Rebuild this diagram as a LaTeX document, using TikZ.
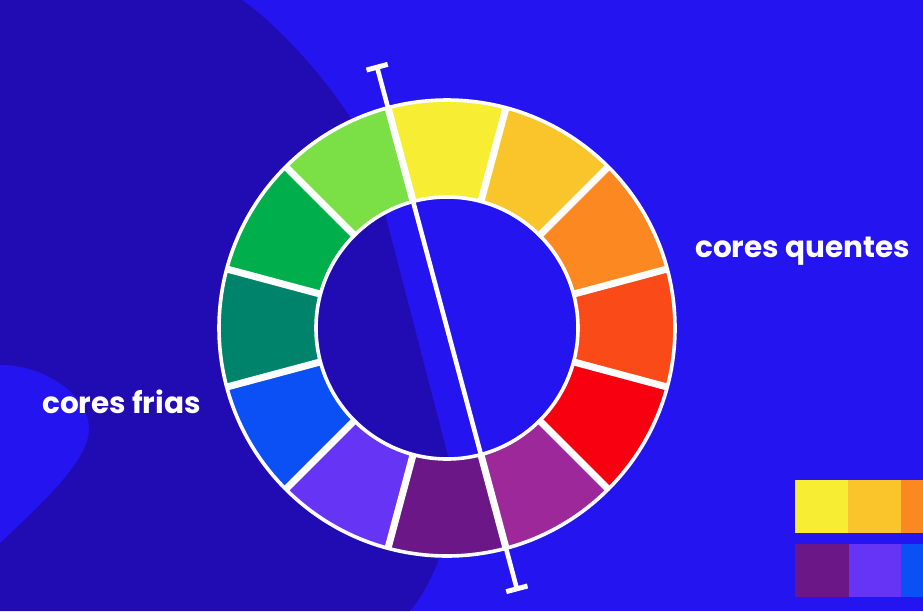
\documentclass[tikz,border=0pt]{standalone}
\usepackage{fontspec}
\setmainfont{Poppins}
\usetikzlibrary{calc}
\definecolor{bgblue}{RGB}{35,20,240}
\definecolor{darkblob}{RGB}{33,12,180}
\definecolor{cYellow}{HTML}{F7EE33}
\definecolor{cLightGreen}{HTML}{7AE046}
\definecolor{cGreen}{HTML}{00AE4B}
\definecolor{cTeal}{HTML}{00836B}
\definecolor{cBlue}{HTML}{0A50F5}
\definecolor{cViolet}{HTML}{6634F4}
\definecolor{cDarkPurple}{HTML}{6B1788}
\definecolor{cMagenta}{HTML}{9C289A}
\definecolor{cRed}{HTML}{F90011}
\definecolor{cRedOrange}{HTML}{F94A18}
\definecolor{cOrange}{HTML}{FB8821}
\definecolor{cYellowOrange}{HTML}{FAC52B}
\tikzset{
  labeltext/.style={text=white, font=\bfseries\fontsize{29.5}{32}\selectfont, inner sep=0pt, anchor=base west},
  whitering/.style={draw=white, line width=3.6pt},
  separator/.style={draw=white, line width=7pt},
  axisline/.style={draw=white, line width=4.6pt},
  capbar/.style={draw=white, line width=5pt},
  swatch/.style={inner sep=0pt, minimum width=53.5pt, minimum height=53pt, anchor=north west}
}
\begin{document}
\begin{tikzpicture}[x=1pt,y=1pt]
\useasboundingbox (0,0) rectangle (923,-611);
\fill[bgblue] (0,0) rectangle (923,-611);
% dark blob
\fill[darkblob] (0,0) -- (242,0) .. controls (292,-35) and (361,-120) .. (371,-160)
  -- (449,-460) .. controls (461,-505) and (440,-575) .. (410,-611) -- (0,-611) -- cycle;
% light bump on the left
\fill[bgblue] (0,-365) .. controls (45,-365) and (88,-395) .. (89,-428)
  .. controls (90,-460) and (40,-505) .. (0,-543) -- cycle;
% colour wheel
\begin{scope}[shift={(447,-328)}]
  \coordinate (wc) at (0,0);
  \def\Rin{131}\def\Rout{228}
  \foreach \col [count=\k from 0] in {cYellow,cLightGreen,cGreen,cTeal,cBlue,cViolet,cDarkPurple,cMagenta,cRed,cRedOrange,cOrange,cYellowOrange}{
    \pgfmathsetmacro{\aone}{75+30*\k}
    \pgfmathsetmacro{\atwo}{105+30*\k}
    \fill[\col] (\aone:\Rin) arc[start angle=\aone, end angle=\atwo, radius=\Rin]
      -- (\atwo:\Rout) arc[start angle=\atwo, end angle=\aone, radius=\Rout] -- cycle;
  }
  \foreach \k in {0,...,11}{
    \pgfmathsetmacro{\aone}{75+30*\k}
    \draw[separator] (\aone:\Rin) -- (\aone:\Rout);
  }
  \draw[whitering] (wc) circle[radius=\Rout];
  \draw[whitering] (wc) circle[radius=\Rin];
  % axis line
  \coordinate (top) at (105:270);
  \coordinate (bot) at (285:270);
  \draw[axisline] (top) -- (bot);
  \draw[capbar] ($(top)+(15:11)$) -- ($(top)+(195:11)$);
  \draw[capbar] ($(bot)+(15:11)$) -- ($(bot)+(195:11)$);
\end{scope}
% labels
\node[labeltext] (warm) at (695,-257) {cores quentes};
\node[labeltext] (cold) at (42,-413) {cores frias};
% swatches
\node[swatch, fill=cYellow] (s1) at (795,-480) {};
\node[swatch, fill=cYellowOrange] (s2) at (848,-480) {};
\node[swatch, fill=cOrange] (s3) at (901,-480) {};
\node[swatch, fill=cDarkPurple] (s4) at (795,-544) {};
\node[swatch, fill=cViolet] (s5) at (849,-544) {};
\node[swatch, fill=cBlue] (s6) at (901,-544) {};
\end{tikzpicture}
\end{document}
